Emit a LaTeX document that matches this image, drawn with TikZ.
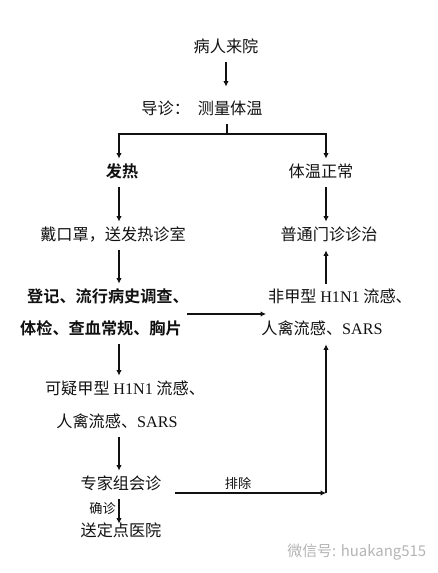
\documentclass[tikz,border=0pt]{standalone}
\usepackage{fontspec}
\setmainfont{Noto Sans CJK SC}[BoldFont={Noto Sans CJK SC Bold}]
\newfontfamily\latin{Liberation Serif}
\usetikzlibrary{arrows.meta,calc}
\definecolor{Ink}{HTML}{111111}
\definecolor{Mark}{HTML}{B4B4B4}
\tikzset{
  item/.style={
    inner xsep=1pt, inner ysep=3.4pt, text height=7.4pt, text depth=1.8pt,
    font=\fontsize{9.2}{11}\selectfont, text=Ink
  },
  keyitem/.style={item, font=\fontsize{9.2}{11}\selectfont\bfseries},
  remark/.style={inner sep=1.5pt, font=\fontsize{7.5}{9}\selectfont, text=Ink},
  flow/.style={-{Latex[length=1.1mm,width=1.1mm]}, line width=0.6pt, draw=Ink},
  link/.style={line width=0.6pt, draw=Ink}
}

\begin{document}
\begin{tikzpicture}[x=0.02cm,y=-0.02cm]
    \useasboundingbox (0,0) rectangle (438,573);
    \coordinate (colL) at (119,0); \coordinate (colR) at (326,0);
    \coordinate (split) at (227,134);

    \node[item] (come) at (226,48) {病人来院};
    \node[item] (guide) at (202,110) {导诊：\hspace{0.16cm}测量体温};
    \node[keyitem] (fever) at (122,173) {发热};
    \node[item] (normal) at (321,173) {体温正常};
    \node[item] (mask) at (113,236) {戴口罩，送发热诊室};
    \node[item] (clinic) at (329,236) {普通门诊诊治};
    \node[keyitem] (reg1) at (108,298) {登记、流行病史调查、};
    \node[keyitem] (reg2) at (101,330) {体检、查血常规、胸片};
    \node[item] (nonA1) at (340,298) {非甲型 {\latin H1N1} 流感、};
    \node[item] (nonA2) at (322,330) {人禽流感、{\latin SARS}};
    \node[item] (susp1) at (125,390) {可疑甲型 {\latin H1N1} 流感、};
    \node[item] (susp2) at (117,423) {人禽流感、{\latin SARS}};
    \node[item] (expert) at (121,485) {专家组会诊};
    \node[item] (hospital) at (121,532) {送定点医院};
    \node[anchor=west, inner sep=0pt, text=Mark, font=\fontsize{8.5}{10}\selectfont]
      (mark) at (287,552) {微信号: huakang515};

    \draw[flow,shorten >=0.18cm] (come.south) -- (come.south |- guide.north);
    \draw[link] (split |- guide.south) -- (split);
    \draw[flow] (split) -| (colL |- fever.north);
    \draw[flow] (split) -| (colR |- normal.north);
    \draw[flow] (colL |- fever.south) -- (colL |- mask.north);
    \draw[flow] (colR |- normal.south) -- (colR |- clinic.north);
    \draw[flow] (colL |- mask.south) -- (colL |- reg1.north);
    \coordinate (regmid) at ($(reg1.east)!.5!(reg2.east)$);
    \draw[flow] (regmid) -- (regmid -| nonA1.west);
    \draw[flow] (colR |- nonA1.north) -- (colR |- clinic.south);
    \draw[flow] (colL |- reg2.south) -- (colL |- susp1.north);
    \draw[flow] (colL |- susp2.south) -- (colL |- expert.north);
    \draw[flow,shorten >=-0.12cm] (colL |- expert.south) -- (colL |- hospital.north)
      node[remark,midway,left] {确诊};
    \coordinate (corner) at ($(colR |- expert.east)+(0,8)$);
    \draw[flow] ($(expert.east)+(11,8)$) -- (corner) node[remark,pos=.42,above] {排除};
    \draw[flow] (corner) -- (colR |- nonA2.south);
  \end{tikzpicture}
\end{document}
